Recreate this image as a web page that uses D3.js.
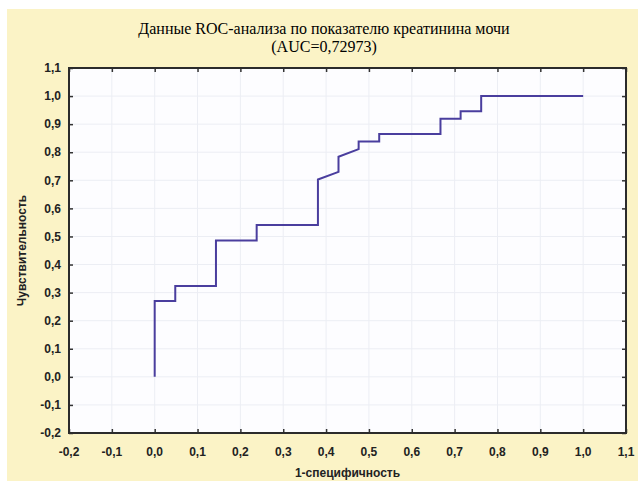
<!DOCTYPE html>
<html>
<head>
<meta charset="utf-8">
<script src="https://cdn.jsdelivr.net/npm/d3@7"></script>
<style>
  html, body { margin: 0; padding: 0; background: #fff; }
  svg { display: block; }
</style>
</head>
<body>
<svg width="638" height="481"></svg>
<script>
// ROC curve points (1-specificity, sensitivity)
var fpr = [0, 0, 0.048, 0.048, 0.143, 0.143, 0.238, 0.238, 0.381, 0.381, 0.429, 0.429,
    0.476, 0.476, 0.524, 0.524, 0.667, 0.667, 0.714, 0.714, 0.762, 0.762, 1.0];
var tpr = [0, 0.270, 0.270, 0.324, 0.324, 0.486, 0.486, 0.541, 0.541, 0.703, 0.730, 0.784,
    0.811, 0.838, 0.838, 0.865, 0.865, 0.919, 0.919, 0.946, 0.946, 1.0, 1.0];

var xTicks = [-0.2, -0.1, 0, 0.1, 0.2, 0.3, 0.4, 0.5, 0.6, 0.7, 0.8, 0.9, 1.0, 1.1];
var yTicks = [-0.2, -0.1, 0, 0.1, 0.2, 0.3, 0.4, 0.5, 0.6, 0.7, 0.8, 0.9, 1.0, 1.1];

var titleLines = ["Данные ROC-анализа по показателю креатинина мочи", "(AUC=0,72973)"];
var xTitle = "1-специфичность";
var yTitle = "Чувствительность";

var svg = d3.select("svg");
var width = +svg.attr("width");
var height = +svg.attr("height");
var margin = {top: 68, right: 12, bottom: 48, left: 69};
var w = width - margin.left - margin.right;
var h = height - margin.top - margin.bottom;

// yellow panel behind everything
svg.append("rect")
    .attr("x", 7).attr("y", 9)
    .attr("width", width - 7).attr("height", height - 9)
    .attr("fill", "#fbf3c6");

var ru = d3.formatLocale({decimal: ",", thousands: " ", grouping: [3], currency: ["", ""], minus: "-"});
var fmt = ru.format(".1f");

var x = d3.scaleLinear().domain([-0.2, 1.1]).range([0, w]);
var y = d3.scaleLinear().domain([-0.2, 1.1]).range([h, 0]);

var g = svg.append("g").attr("transform", "translate(" + margin.left + "," + margin.top + ")");

g.append("rect")
    .attr("width", w).attr("height", h)
    .attr("fill", "#fdfdff");

// faint grid
g.append("g").selectAll("line.gx")
    .data(xTicks.slice(1, -1))
    .enter().append("line")
    .attr("x1", function (d) { return x(d); })
    .attr("x2", function (d) { return x(d); })
    .attr("y1", 0).attr("y2", h)
    .style("stroke", "#eceef4").style("stroke-width", "1px");
g.append("g").selectAll("line.gy")
    .data(yTicks.slice(1, -1))
    .enter().append("line")
    .attr("y1", function (d) { return y(d); })
    .attr("y2", function (d) { return y(d); })
    .attr("x1", 0).attr("x2", w)
    .style("stroke", "#eceef4").style("stroke-width", "1px");

// ROC line
var pts = fpr.map(function (d, i) { return [d, tpr[i]]; });
g.append("path")
    .datum(pts)
    .attr("fill", "none")
    .attr("stroke", "#4a3e9e")
    .attr("stroke-width", 2)
    .attr("d", d3.line()
        .x(function (d) { return x(d[0]); })
        .y(function (d) { return y(d[1]); }));

// axes (ticks inward, labels drawn separately)
var axisStyle = function (sel) {
    sel.select(".domain").remove();
    sel.selectAll("line").attr("stroke", "#333").attr("stroke-width", 1.5);
    sel.selectAll("text").remove();
};
g.append("g").attr("transform", "translate(0," + h + ")")
    .call(d3.axisBottom(x).tickValues(xTicks).tickSize(-4)).call(axisStyle);
g.append("g")
    .call(d3.axisTop(x).tickValues(xTicks).tickSize(-4)).call(axisStyle);
g.append("g")
    .call(d3.axisLeft(y).tickValues(yTicks).tickSize(-4)).call(axisStyle);
g.append("g").attr("transform", "translate(" + w + ",0)")
    .call(d3.axisRight(y).tickValues(yTicks).tickSize(-4)).call(axisStyle);

g.append("rect")
    .attr("width", w).attr("height", h)
    .attr("fill", "none")
    .attr("stroke", "#2b2b2b")
    .attr("stroke-width", 2);

var labelFont = "'Liberation Sans', Arial, sans-serif";

g.append("g").selectAll("text")
    .data(xTicks)
    .enter().append("text")
    .attr("x", function (d) { return x(d); })
    .attr("y", h + 23)
    .attr("text-anchor", "middle")
    .style("font-family", labelFont).style("font-size", "12px").style("font-weight", "bold")
    .style("fill", "#222")
    .text(fmt);

g.append("g").selectAll("text")
    .data(yTicks)
    .enter().append("text")
    .attr("x", -8)
    .attr("y", function (d) { return y(d); })
    .attr("dy", "0.35em")
    .attr("text-anchor", "end")
    .style("font-family", labelFont).style("font-size", "12px").style("font-weight", "bold")
    .style("fill", "#222")
    .text(fmt);

svg.append("text")
    .attr("x", margin.left + w / 2)
    .attr("y", 477)
    .attr("text-anchor", "middle")
    .style("font-family", labelFont).style("font-size", "12px").style("font-weight", "bold")
    .style("fill", "#222")
    .text(xTitle);

svg.append("text")
    .attr("transform", "translate(26," + (margin.top + h / 2) + ") rotate(-90)")
    .attr("text-anchor", "middle")
    .style("font-family", labelFont).style("font-size", "12px").style("font-weight", "bold")
    .style("fill", "#222")
    .text(yTitle);

svg.append("g").selectAll("text")
    .data(titleLines)
    .enter().append("text")
    .attr("x", 324)
    .attr("y", function (d, i) { return 34 + i * 18; })
    .attr("text-anchor", "middle")
    .style("font-family", "'Liberation Serif', 'Times New Roman', serif")
    .style("font-size", "16px")
    .style("fill", "#000")
    .text(function (d) { return d; });
</script>
</body>
</html>
